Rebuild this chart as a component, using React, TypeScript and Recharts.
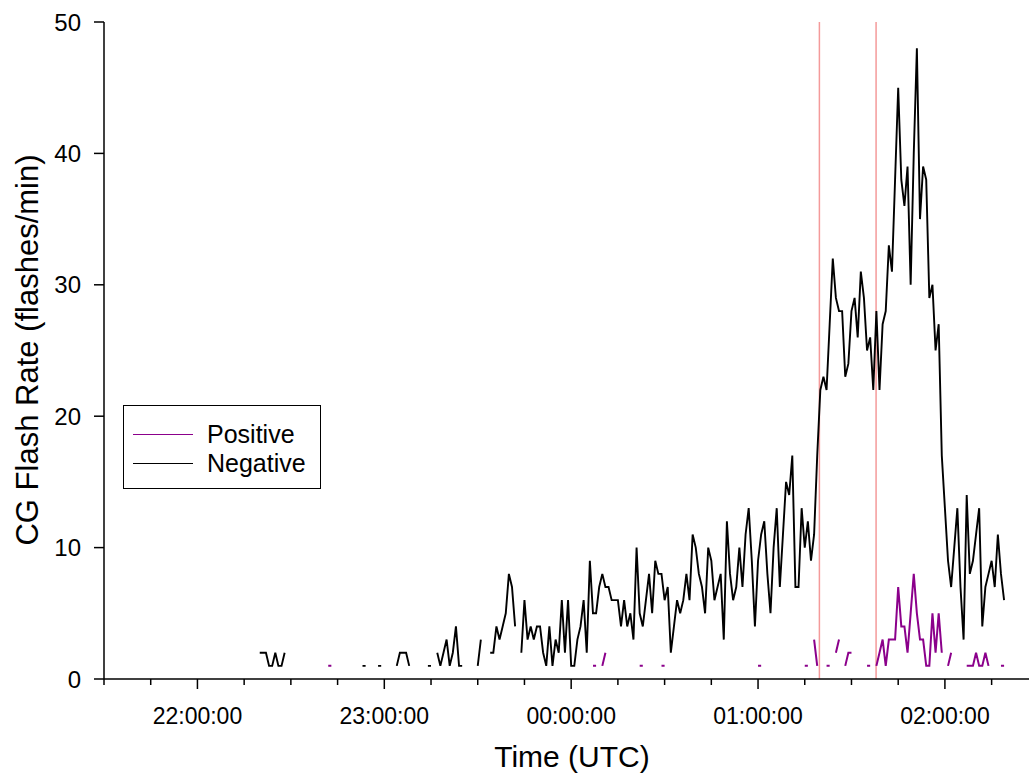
import React from "react";
import { LineChart, Line, XAxis, YAxis, ReferenceLine, Label } from "recharts";

// x = minutes after 21:30 UTC, one value per minute; null = no flashes that minute
const _ = null;
const FIRST_MINUTE = 50; // 22:20 UTC

const negativeRate = [
  2, 2, 2, 1, 1, 2, 1, 1, 2, _,
  _, _, _, _, _, _, _, _, _, _,
  _, _, _, _, _, _, _, _, _, _,
  _, _, _, 1, 1, _, _, _, 1, 1,
  _, _, _, _, 1, 2, 2, 2, 1, _,
  _, _, _, _, 1, 1, _, 2, 1, 2,
  3, 1, 2, 4, 1, 1, _, _, _, _,
  1, 3, _, _, 2, 2, 4, 3, 4, 5,
  8, 7, 4, _, 2, 6, 3, 4, 3, 4,
  4, 2, 1, 4, 1, 3, 2, 6, 2, 6,
  1, 1, 3, 4, 6, 2, 9, 5, 5, 7,
  8, 7, 7, 6, 6, 6, 4, 6, 4, 5,
  3, 10, 5, 4, 6, 8, 5, 9, 8, 8,
  6, 7, 2, 4, 6, 5, 6, 8, 6, 11,
  10, 8, 7, 5, 10, 9, 6, 7, 8, 3,
  12, 8, 6, 7, 10, 7, 11, 13, 9, 4,
  9, 11, 12, 8, 5, 10, 13, 7, 11, 15,
  14, 17, 7, 7, 13, 10, 12, 9, 11, 17,
  22, 23, 22, 27, 32, 29, 28, 28, 23, 24,
  28, 29, 26, 31, 29, 25, 26, 22, 28, 22,
  27, 28, 33, 31, 38, 45, 38, 36, 39, 30,
  40, 48, 35, 39, 38, 29, 30, 25, 27, 17,
  13, 9, 7, 10, 13, 7, 3, 14, 8, 9,
  11, 13, 4, 7, 8, 9, 7, 11, 8, 6,
];

const positiveRate = [
  _, _, _, _, _, _, _, _, _, _,
  _, _, _, _, _, _, _, _, _, _,
  _, _, 1, 1, _, _, _, _, _, _,
  _, _, _, _, _, _, _, _, _, _,
  _, _, _, _, _, _, _, _, _, _,
  _, _, _, _, _, _, _, _, _, _,
  _, _, _, _, _, _, _, _, _, _,
  _, _, _, _, _, _, _, _, _, _,
  _, _, _, _, _, _, _, _, _, _,
  _, _, _, _, _, _, _, _, _, _,
  _, _, _, _, _, _, _, 1, 1, _,
  1, 2, _, _, _, _, _, _, _, _,
  _, _, 1, 1, _, _, _, _, _, 1,
  1, _, _, _, _, _, _, _, _, _,
  _, _, _, _, _, _, _, _, _, _,
  _, _, _, _, _, _, _, _, _, _,
  1, 1, _, _, _, _, _, _, _, _,
  _, _, _, _, _, 1, 1, _, 3, 1,
  _, _, 1, 1, _, 2, 3, _, 1, 2,
  2, _, _, _, _, 1, 1, _, 1, 2,
  3, 1, 3, 3, 3, 7, 4, 4, 2, 5,
  8, 5, 3, 3, 1, 1, 5, 2, 5, 2,
  _, 1, 2, _, _, _, _, 1, 1, 1,
  2, 1, 1, 2, 1, _, _, _, 1, 1,
];

// 15-minute ticks from 21:30; hour ticks carry labels
const timeTicks = [0, 15, 30, 45, 60, 75, 90, 105, 120, 135, 150, 165, 180, 195, 210, 225, 240, 255, 270, 285];
const hourTicks = [30, 90, 150, 210, 270];
const hourLabels = ["22:00:00", "23:00:00", "00:00:00", "01:00:00", "02:00:00"];
const rateTicks = [0, 10, 20, 30, 40, 50];
const markerTimes = [229.7, 247.9];

const data = negativeRate.map((v, i) => ({
  t: FIRST_MINUTE + i,
  negative: v,
  positive: positiveRate[i],
}));

function TimeTick(props: any) {
  const { x, y, payload } = props;
  const i = hourTicks.indexOf(payload.value);
  const major = i >= 0;
  return (
    <g>
      <line x1={x} x2={x} y1={y} y2={y + (major ? 10 : 6)} stroke="#000" strokeWidth={1.5} />
      {major && (
        <text x={x} y={y + 45} textAnchor="middle" fontSize={23} fill="#000">
          {hourLabels[i]}
        </text>
      )}
    </g>
  );
}

export default function App() {
  return (
    <div style={{ position: "relative", width: 1029, height: 776, fontFamily: "'Liberation Sans', Arial, sans-serif" }}>
      <style>{`body { margin: 0; overflow: hidden; }`}</style>
      <LineChart width={1029} height={776} data={data} margin={{ top: 22, right: 0, left: 0, bottom: 7 }}>
        <XAxis
          dataKey="t"
          type="number"
          domain={[0, 297]}
          ticks={timeTicks}
          interval={0}
          tick={<TimeTick />}
          tickLine={false}
          tickSize={0}
          tickMargin={0}
          height={90}
          axisLine={{ stroke: "#000", strokeWidth: 1.5 }}
        >
          <Label
            content={() => (
              <text x={572} y={767} textAnchor="middle" fontSize={30} fill="#000">
                Time (UTC)
              </text>
            )}
          />
        </XAxis>
        <YAxis
          type="number"
          domain={[0, 50]}
          ticks={rateTicks}
          width={104}
          tickSize={10}
          tickMargin={13}
          tick={{ fontSize: 24, fill: "#000" }}
          tickLine={{ stroke: "#000", strokeWidth: 1.5 }}
          axisLine={{ stroke: "#000", strokeWidth: 1.5 }}
        >
          <Label
            content={() => (
              <text transform="translate(38,350) rotate(-90)" textAnchor="middle" fontSize={31} fill="#000">
                CG Flash Rate (flashes/min)
              </text>
            )}
          />
        </YAxis>
        {markerTimes.map((m) => (
          <ReferenceLine key={m} x={m} stroke="#f49a9a" strokeWidth={1.5} />
        ))}
        <Line type="linear" dataKey="negative" stroke="#000" strokeWidth={1.9} dot={false} isAnimationActive={false} />
        <Line type="linear" dataKey="positive" stroke="#8b008b" strokeWidth={2} dot={false} isAnimationActive={false} />
      </LineChart>
      <div
        style={{
          position: "absolute",
          left: 123,
          top: 405,
          width: 196,
          height: 82,
          border: "1.5px solid #000",
          background: "#fff",
          fontSize: 25,
        }}
      >
        {[
          { name: "Positive", color: "#8b008b" },
          { name: "Negative", color: "#000" },
        ].map((s, i) => (
          <div key={s.name} style={{ position: "absolute", left: 9, top: 14 + i * 29, height: 28, display: "flex", alignItems: "center" }}>
            <div style={{ width: 60, height: 0, borderTop: `1.8px solid ${s.color}` }} />
            <span style={{ marginLeft: 14, lineHeight: "28px" }}>{s.name}</span>
          </div>
        ))}
      </div>
    </div>
  );
}
